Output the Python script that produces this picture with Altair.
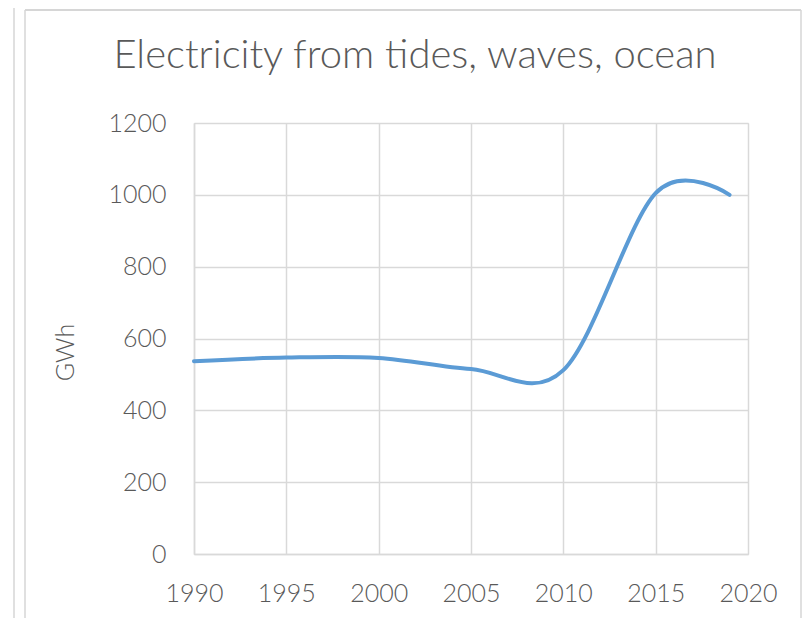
import altair as alt
import pandas as pd

years = [1990, 1995, 2000, 2005, 2010, 2015, 2019]
gwh = [537, 547, 546, 515, 512, 1005, 1000]

x_ticks = [1990, 1995, 2000, 2005, 2010, 2015, 2020]
y_ticks = [0, 200, 400, 600, 800, 1000, 1200]

title_text = "Electricity from tides, waves, ocean"
y_title = "GWh"

df = pd.DataFrame({"year": years, "gwh": gwh})

FONT = "Lato"
TXT = "#595959"
GRID = "#d9d9d9"

line = alt.Chart(df).mark_line(
    interpolate="cardinal", tension=0, color="#5B9BD5", strokeWidth=4, strokeCap="round"
).encode(
    x=alt.X("year:Q", scale=alt.Scale(domain=[1990, 2020], nice=False, zero=False),
            axis=alt.Axis(values=x_ticks, format="d", title=None, grid=True,
                          gridColor=GRID, gridWidth=1.5, domainColor=GRID, domainWidth=1.5,
                          ticks=False, labelPadding=27, labelFont=FONT, labelFontSize=25,
                          labelFontWeight=300, labelColor=TXT, labelFlush=False)),
    y=alt.Y("gwh:Q", scale=alt.Scale(domain=[0, 1200], nice=False),
            axis=alt.Axis(values=y_ticks, format="d", title=y_title, grid=True,
                          gridColor=GRID, gridWidth=1.5, domainColor=GRID, domainWidth=1.5,
                          ticks=False, labelPadding=28, labelFont=FONT, labelFontSize=25,
                          labelFontWeight=300, labelColor=TXT, labelFlush=False,
                          titleFont=FONT, titleFontSize=25, titleFontWeight=300,
                          titleColor=TXT, titleX=-129, titleY=229, titleAngle=270,
                          titleAlign="center", titleBaseline="middle")),
)

frame_data = alt.Data(values=[{}])
frame_color = "#d6d6d6"
left_outer = alt.Chart(frame_data).mark_rule(color=frame_color, strokeWidth=1.5).encode(
    x=alt.value(-180), y=alt.value(-116), y2=alt.value(495))
left_inner = alt.Chart(frame_data).mark_rule(color=frame_color, strokeWidth=1.5).encode(
    x=alt.value(-169), y=alt.value(-113), y2=alt.value(495))
top_border = alt.Chart(frame_data).mark_rule(color=frame_color, strokeWidth=2).encode(
    x=alt.value(-169), x2=alt.value(607), y=alt.value(-113))
right_border = alt.Chart(frame_data).mark_rule(color=frame_color, strokeWidth=1.5).encode(
    x=alt.value(607), y=alt.value(-113), y2=alt.value(495))

chart = alt.layer(left_outer, left_inner, top_border, right_border, line).properties(
    width=554,
    height=431,
    title=alt.TitleParams(title_text, anchor="middle", frame="group", dx=-56, dy=102,
                          font=FONT, fontSize=40, fontWeight=300, color=TXT,
                          baseline="alphabetic", offset=0),
    autosize=alt.AutoSizeParams(type="none"),
    padding={"left": 186, "top": 115, "right": 54, "bottom": 64},
).configure_view(stroke=None).configure(background="white")

chart.save("out.html", embed_options={"renderer": "svg", "actions": False})
